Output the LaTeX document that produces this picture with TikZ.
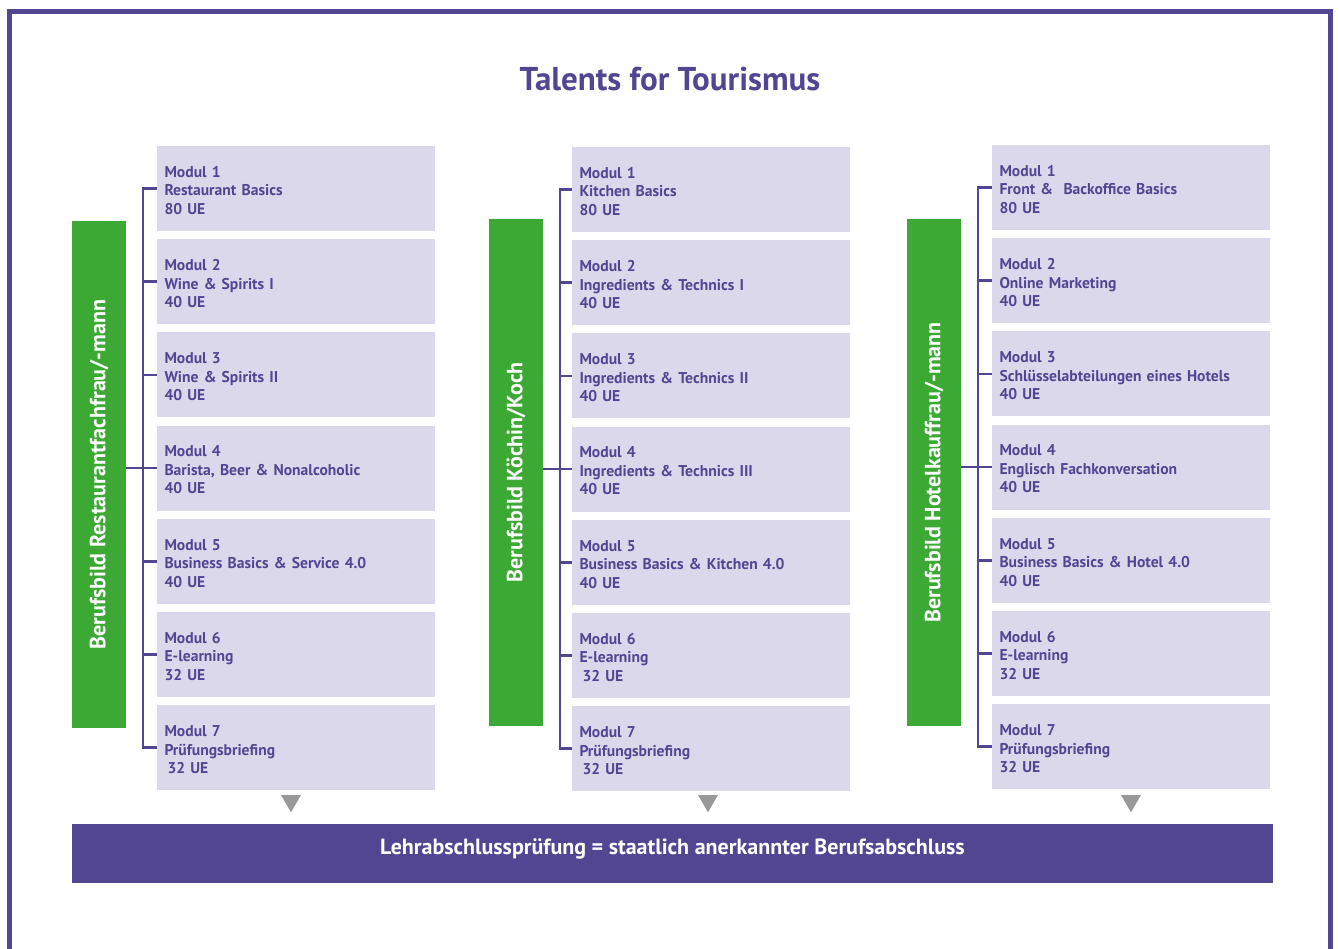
\documentclass[tikz,border=0pt]{standalone}
\usepackage{fontspec}
\setmainfont{PT Sans}
\usetikzlibrary{positioning,shapes.geometric}

\definecolor{lila}{RGB}{82,69,146}
\definecolor{flieder}{RGB}{220,216,236}
\definecolor{gruen}{RGB}{61,169,53}
\definecolor{grau}{RGB}{153,153,153}

\begin{document}
\begin{tikzpicture}[x=1pt,y=-1pt,
    modul/.style={fill=flieder,text=lila,font=\bfseries\fontsize{15.6}{18.5}\selectfont,align=left,
        text width=263pt,inner xsep=7.5pt,inner ysep=0pt,minimum height=85pt,outer sep=0pt,
        execute at begin node={\rule{0pt}{15pt}}},
    berufsbild/.style={fill=gruen,text=white,font=\bfseries\fontsize{22}{24}\selectfont,rotate=90,
        minimum width=507pt,minimum height=54pt,inner sep=0pt,outer sep=0pt},
    klammer/.style={draw=lila,line width=2.5pt},
    pfeil/.style={regular polygon,regular polygon sides=3,shape border rotate=180,fill=grau,
        minimum size=23pt,inner sep=0pt}]
    \useasboundingbox (0,0) rectangle (1339,949);
    \draw[lila,line width=5pt] (9.5,951) -- (9.5,11.5) -- (1330.5,11.5) -- (1330.5,951);

    \node[text=lila,font=\bfseries\fontsize{33}{35}\selectfont] (titel) at (670,79) {Talents for Tourismus};

    % Restaurantfachfrau/-mann
    \node[berufsbild] (br) at (99,474.5) {Berufsbild Restaurantfachfrau/-mann};
    \node[modul] (r1) at (157,146) [anchor=north west] {Modul 1\\Restaurant Basics\\80 UE};
    \node[modul] (r2) at (r1.south) [anchor=north,yshift=-8.2pt] {Modul 2\\Wine \& Spirits I\\40 UE};
    \node[modul] (r3) at (r2.south) [anchor=north,yshift=-8.2pt] {Modul 3\\Wine \& Spirits II\\40 UE};
    \node[modul] (r4) at (r3.south) [anchor=north,yshift=-8.2pt] {Modul 4\\Barista, Beer \& Nonalcoholic\\40 UE};
    \node[modul] (r5) at (r4.south) [anchor=north,yshift=-8.2pt] {Modul 5\\Business Basics \& Service 4.0\\40 UE};
    \node[modul] (r6) at (r5.south) [anchor=north,yshift=-8.2pt] {Modul 6\\E-learning\\32 UE};
    \node[modul] (r7) at (r6.south) [anchor=north,yshift=-8.2pt] {Modul 7\\Prüfungsbriefing\\\hspace{3pt}32 UE};
    \draw[klammer] (r1.west) -- ++(-14,0) |- (r7.west);
    \foreach \i in {2,3,5,6} \draw[klammer] (r\i.west) -- ++(-14,0);
    \draw[klammer] (r4.west) -- (r4.west -| br.south);

    % Köchin/Koch
    \node[berufsbild] (bk) at (516,472.5) {Berufsbild Köchin/Koch};
    \node[modul] (k1) at (572,147) [anchor=north west] {Modul 1\\Kitchen Basics\\80 UE};
    \node[modul] (k2) at (k1.south) [anchor=north,yshift=-8.2pt] {Modul 2\\Ingredients \& Technics I\\40 UE};
    \node[modul] (k3) at (k2.south) [anchor=north,yshift=-8.2pt] {Modul 3\\Ingredients \& Technics II\\40 UE};
    \node[modul] (k4) at (k3.south) [anchor=north,yshift=-8.2pt] {Modul 4\\Ingredients \& Technics III\\40 UE};
    \node[modul] (k5) at (k4.south) [anchor=north,yshift=-8.2pt] {Modul 5\\Business Basics \& Kitchen 4.0\\40 UE};
    \node[modul] (k6) at (k5.south) [anchor=north,yshift=-8.2pt] {Modul 6\\E-learning\\\hspace{3pt}32 UE};
    \node[modul] (k7) at (k6.south) [anchor=north,yshift=-8.2pt] {Modul 7\\Prüfungsbriefing\\\hspace{3pt}32 UE};
    \draw[klammer] (k1.west) -- ++(-12,0) |- (k7.west);
    \foreach \i in {2,3,5,6} \draw[klammer] (k\i.west) -- ++(-12,0);
    \draw[klammer] (k4.west) -- (k4.west -| bk.south);

    % Hotelkauffrau/-mann
    \node[berufsbild] (bh) at (934,472.5) {Berufsbild Hotelkauffrau/-mann};
    \node[modul] (h1) at (992,145) [anchor=north west] {Modul 1\\Front \&\ \ Backoffice Basics\\80 UE};
    \node[modul] (h2) at (h1.south) [anchor=north,yshift=-8.2pt] {Modul 2\\Online Marketing\\40 UE};
    \node[modul] (h3) at (h2.south) [anchor=north,yshift=-8.2pt] {Modul 3\\Schlüsselabteilungen eines Hotels\\40 UE};
    \node[modul] (h4) at (h3.south) [anchor=north,yshift=-8.2pt] {Modul 4\\Englisch Fachkonversation\\40 UE};
    \node[modul] (h5) at (h4.south) [anchor=north,yshift=-8.2pt] {Modul 5\\Business Basics \& Hotel 4.0\\40 UE};
    \node[modul] (h6) at (h5.south) [anchor=north,yshift=-8.2pt] {Modul 6\\E-learning\\32 UE};
    \node[modul] (h7) at (h6.south) [anchor=north,yshift=-8.2pt] {Modul 7\\Prüfungsbriefing\\32 UE};
    \draw[klammer] (h1.west) -- ++(-14,0) |- (h7.west);
    \foreach \i in {2,3,5,6} \draw[klammer] (h\i.west) -- ++(-14,0);
    \draw[klammer] (h4.west) -- (h4.west -| bh.south);

    % Abschluss
    \node[pfeil] (pr) at (291,800.8) {};
    \node[pfeil] (pk) at (708,800.8) {};
    \node[pfeil] (ph) at (1131,800.8) {};
    \node[fill=lila,text=white,font=\bfseries\fontsize{22}{24}\selectfont,minimum width=1201pt,
        minimum height=59pt,inner sep=0pt] (lap) at (672.5,853.5)
        {\raisebox{-1pt}[0pt][0pt]{Lehrabschlussprüfung = staatlich anerkannter Berufsabschluss}};
\end{tikzpicture}
\end{document}
